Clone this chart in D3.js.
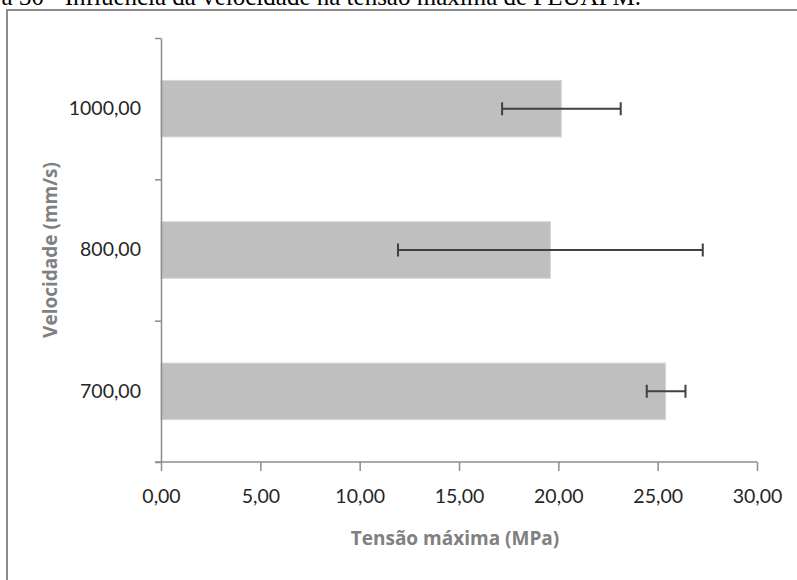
<!DOCTYPE html>
<html>
<head>
<meta charset="utf-8">
<script src="https://cdn.jsdelivr.net/npm/d3@7"></script>
<style>
	body { margin: 0; background: #fff; }
	svg { display: block; }
</style>
</head>
<body>
<div id="chart"></div>
<script>

var velocidades = ['700,00', '800,00', '1000,00']
var tensao = [25.4, 19.6, 20.15]
var erroInferior = [24.45, 11.93, 17.17]
var erroSuperior = [26.4, 27.27, 23.14]
var xTicks = [0, 5, 10, 15, 20, 25, 30]

var W = 797, H = 580
var margin = {
	top: 38,
	bottom: 118,
	left: 161,
	right: 40
}
var width = W - margin.left - margin.right
var height = H - margin.top - margin.bottom

var svg = d3.select('#chart').append('svg')
	.attr('width', W)
	.attr('height', H)

// caption cut off at the top of the image, as in the source
svg.append('text')
	.attr('x', 641)
	.attr('y', 5)
	.attr('text-anchor', 'end')
	.style('font-family', '"Liberation Serif", "Times New Roman", serif')
	.style('font-size', '25px')
	.style('fill', '#000')
	.text('Figura 30 - Influência da velocidade na tensão máxima de PEUAPM.')

// frame
svg.append('path')
	.attr('d', 'M7,' + H + ' V10 H' + W)
	.attr('fill', 'none')
	.attr('stroke', '#8c8c8c')
	.attr('stroke-width', 2)

var xScale = d3.scaleLinear()
	.domain([0, 30])
	.range([0, width])

var yScale = d3.scaleBand()
	.domain(velocidades.slice().reverse())
	.range([0, height])
	.paddingInner(0.6)
	.paddingOuter(0.3)

var yBounds = d3.scaleLinear()
	.domain([0, velocidades.length])
	.range([height, 0])

var chart = svg.append('g')
	.attr('transform', 'translate(' + margin.left + ',' + margin.top + ')')

chart.selectAll('rect').data(velocidades)
	.enter().append('rect')
		.attr('x', 0)
		.attr('y', function(d) { return yScale(d) })
		.attr('width', function(d, i) { return xScale(tensao[i]) })
		.attr('height', yScale.bandwidth())
		.attr('fill', '#bfbfbf')
		.attr('stroke', '#d6d6d6')
		.attr('stroke-width', 1)

var capH = 13
chart.selectAll('path.errbar').data(velocidades)
	.enter().append('path')
		.attr('class', 'errbar')
		.attr('fill', 'none')
		.attr('stroke', '#404040')
		.attr('stroke-width', 2)
		.attr('d', function(d, i) {
			var yc = yScale(d) + yScale.bandwidth() / 2
			var x0 = xScale(erroInferior[i])
			var x1 = xScale(erroSuperior[i])
			return 'M' + x0 + ',' + (yc - capH / 2) + ' v' + capH +
				' M' + x0 + ',' + yc + ' H' + x1 +
				' M' + x1 + ',' + (yc - capH / 2) + ' v' + capH
		})

var xAxis = d3.axisBottom(xScale)
	.tickValues(xTicks)
	.tickSizeInner(9)
	.tickSizeOuter(0)
	.tickPadding(18)
	.tickFormat(function(d) { return d3.format('.2f')(d).replace('.', ',') })

var gx = chart.append('g')
	.attr('class', 'x axis')
	.attr('transform', 'translate(0,' + height + ')')
	.call(xAxis)

gx.select('.domain').attr('d', 'M-6,0 H' + width)

var yAxis = d3.axisLeft(yBounds)
	.tickValues(d3.range(velocidades.length + 1))
	.tickSizeInner(6)
	.tickSizeOuter(0)
	.tickFormat('')

chart.append('g')
	.attr('class', 'y axis')
	.call(yAxis)

var yLabels = d3.axisLeft(yScale)
	.tickSize(0)
	.tickPadding(20)

var gyl = chart.append('g')
	.attr('class', 'y labels')
	.call(yLabels)
gyl.select('.domain').remove()

svg.selectAll('.axis path, .axis line')
	.attr('stroke', '#8c8c8c')
	.attr('stroke-width', 1.5)

svg.selectAll('.axis text, .labels text')
	.style('font-family', 'Lato, "Noto Sans", sans-serif')
	.style('font-size', '19.5px')
	.style('fill', '#262626')

svg.append('text')
	.attr('x', 455)
	.attr('y', 545)
	.attr('text-anchor', 'middle')
	.style('font-family', '"Open Sans", "Noto Sans", sans-serif')
	.style('font-size', '19px')
	.style('font-weight', 'bold')
	.style('fill', '#808080')
	.text('Tensão máxima (MPa)')

svg.append('text')
	.attr('transform', 'translate(57,' + (margin.top + height / 2) + ') rotate(-90)')
	.attr('text-anchor', 'middle')
	.style('font-family', '"Open Sans", "Noto Sans", sans-serif')
	.style('font-size', '19px')
	.style('font-weight', 'bold')
	.style('fill', '#808080')
	.text('Velocidade (mm/s)')

</script>
</body>
</html>
